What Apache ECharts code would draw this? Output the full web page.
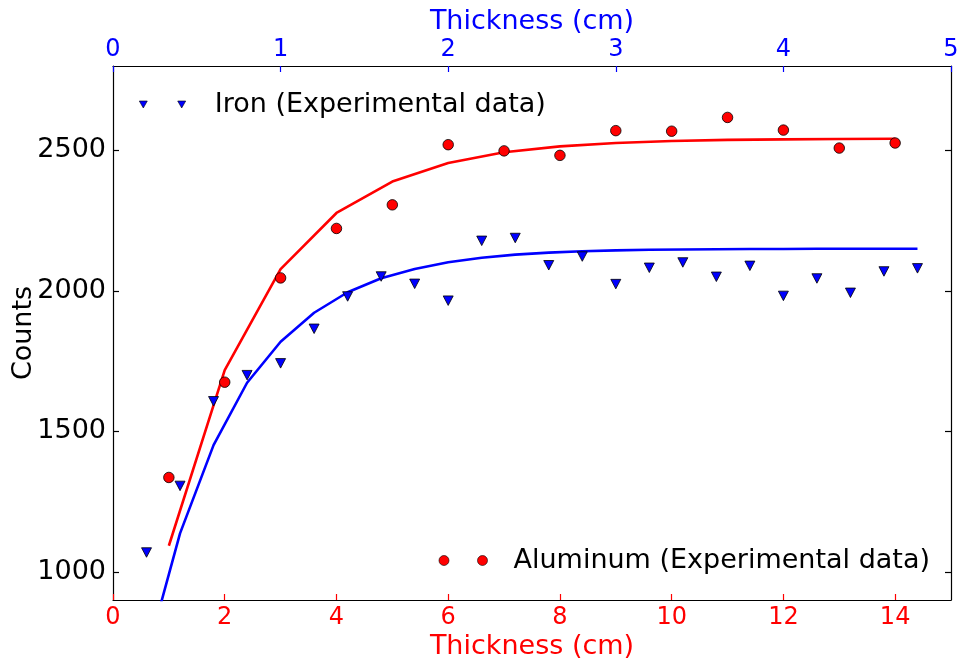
<!DOCTYPE html>
<html>
<head>
<meta charset="utf-8">
<title>Counts vs Thickness</title>
<script src="https://cdn.jsdelivr.net/npm/echarts@6.0.0/dist/echarts.min.js"></script>
<style>
  html, body { margin: 0; padding: 0; background: #fff; }
  #chart { width: 958px; height: 663px; }
</style>
</head>
<body>
<div id="chart"></div>
<script>
// Aluminum: thickness on the lower (red) axis, cm
const alThickness = [1, 2, 3, 4, 5, 6, 7, 8, 9, 10, 11, 12, 13, 14];
const alCounts = [1336, 1675, 2046, 2222, 2306, 2520, 2498, 2482, 2570, 2568, 2617, 2572, 2508, 2526];
const alFit = [1093, 1718, 2077, 2277, 2389, 2455, 2493, 2514, 2526, 2533, 2537, 2539, 2540, 2541];

// Iron: thickness on the upper (blue) axis, cm
const feThickness = [0.2, 0.4, 0.6, 0.8, 1.0, 1.2, 1.4, 1.6, 1.8, 2.0, 2.2, 2.4,
                     2.6, 2.8, 3.0, 3.2, 3.4, 3.6, 3.8, 4.0, 4.2, 4.4, 4.6, 4.8];
const feCounts = [1069, 1306, 1607, 1700, 1742, 1865, 1980, 2051, 2025, 1965, 2178, 2188,
                  2091, 2122, 2024, 2082, 2101, 2050, 2089, 1982, 2044, 1993, 2069, 2080];
const feFit = [700, 1137, 1451, 1673, 1819, 1922, 1995, 2045, 2078, 2102, 2118, 2129,
               2136, 2141, 2144, 2146, 2147, 2148, 2149, 2149, 2150, 2150, 2150, 2150];

// Tick positions
const bottomTicks = [0, 2, 4, 6, 8, 10, 12, 14];
const topTicks = [0, 1, 2, 3, 4, 5];
const yTicks = [1000, 1500, 2000, 2500];

const FONT = 'DejaVu Sans';
const RED = '#ff0000';
const BLUE = '#0000ff';

const zip = (xs, ys) => xs.map((x, i) => [x, ys[i]]);
const plain = v => String(v);

// Two-marker legend glyphs
const triPair = 'path://M0,0L8,0L4,7ZM38.4,0L46.4,0L42.4,7Z';
const circPair = 'path://M0,5A5,5 0 1 1 10,5A5,5 0 1 1 0,5ZM38.5,5A5,5 0 1 1 48.5,5A5,5 0 1 1 38.5,5Z';

const frame = { show: true, onZero: false, lineStyle: { color: '#000', width: 1.2 } };

const chart = echarts.init(document.getElementById('chart'), null, { renderer: 'canvas' });

chart.setOption({
  animation: false,
  backgroundColor: '#fff',
  textStyle: { fontFamily: FONT },
  grid: { left: 113, right: 7, top: 66, bottom: 63, containLabel: false, outerBoundsMode: 'none' },
  legend: [
    {
      data: [{
        name: 'Iron (Experimental data)', icon: triPair,
        itemStyle: { color: BLUE, borderColor: '#000', borderWidth: 0.6 }
      }],
      left: 134, top: 86,
      itemWidth: 46.4, itemHeight: 7,
      selectedMode: false,
      textStyle: { fontFamily: FONT, fontSize: 27, color: '#000', padding: [0, 0, 0, 24] }
    },
    {
      data: [{
        name: 'Aluminum (Experimental data)', icon: circPair,
        itemStyle: { color: RED, borderColor: '#000', borderWidth: 0.6 }
      }],
      right: 23, top: 542,
      itemWidth: 48.5, itemHeight: 10,
      selectedMode: false,
      textStyle: { fontFamily: FONT, fontSize: 27, color: '#000', padding: [0, 0, 0, 21] }
    }
  ],
  xAxis: [
    {
      type: 'value', position: 'bottom', min: 0, max: 15,
      name: 'Thickness (cm)', nameLocation: 'middle', nameGap: 33, nameMoveOverlap: false,
      nameTextStyle: { color: RED, fontSize: 27, fontFamily: FONT },
      axisLine: frame,
      axisTick: { show: true, inside: true, length: 6, customValues: bottomTicks, lineStyle: { color: RED, width: 1.2 } },
      axisLabel: { color: RED, fontSize: 24, fontFamily: FONT, margin: 6, customValues: bottomTicks, formatter: plain },
      splitLine: { show: false }
    },
    {
      type: 'value', position: 'top', min: 0, max: 5,
      name: 'Thickness (cm)', nameLocation: 'middle', nameGap: 31, nameMoveOverlap: false,
      nameTextStyle: { color: BLUE, fontSize: 27, fontFamily: FONT },
      axisLine: frame,
      axisTick: { show: true, inside: true, length: 6, customValues: topTicks, lineStyle: { color: BLUE, width: 1.2 } },
      axisLabel: { color: BLUE, fontSize: 24, fontFamily: FONT, margin: 4, customValues: topTicks, formatter: plain },
      splitLine: { show: false }
    }
  ],
  yAxis: [
    {
      type: 'value', position: 'left', min: 900, max: 2800,
      name: 'Counts', nameLocation: 'middle', nameGap: 76, nameMoveOverlap: false,
      nameTextStyle: { color: '#000', fontSize: 27, fontFamily: FONT },
      axisLine: frame,
      axisTick: { show: true, inside: true, length: 6, customValues: yTicks, lineStyle: { color: '#000', width: 1.2 } },
      axisLabel: { color: '#000', fontSize: 27, fontFamily: FONT, margin: 7, customValues: yTicks, formatter: plain },
      splitLine: { show: false }
    },
    {
      type: 'value', position: 'right', min: 900, max: 2800,
      axisLine: frame,
      axisTick: { show: true, inside: true, length: 6, customValues: yTicks, lineStyle: { color: '#000', width: 1.2 } },
      axisLabel: { show: false },
      splitLine: { show: false }
    }
  ],
  series: [
    {
      name: 'Iron fit', type: 'line', xAxisIndex: 1, yAxisIndex: 0,
      data: zip(feThickness, feFit), symbol: 'none', clip: true, z: 2,
      lineStyle: { color: BLUE, width: 2.6 }, itemStyle: { color: BLUE }
    },
    {
      name: 'Aluminum fit', type: 'line', xAxisIndex: 0, yAxisIndex: 0,
      data: zip(alThickness, alFit), symbol: 'none', clip: true, z: 2,
      lineStyle: { color: RED, width: 2.6 }, itemStyle: { color: RED }
    },
    {
      name: 'Iron (Experimental data)', type: 'scatter', xAxisIndex: 1, yAxisIndex: 0,
      data: zip(feThickness, feCounts), z: 3,
      symbol: 'path://M0,0L10,0L5,9.5Z', symbolSize: [10, 9.5],
      itemStyle: { color: BLUE, borderColor: '#000', borderWidth: 0.8, opacity: 1 }
    },
    {
      name: 'Aluminum (Experimental data)', type: 'scatter', xAxisIndex: 0, yAxisIndex: 0,
      data: zip(alThickness, alCounts), z: 3,
      symbol: 'circle', symbolSize: 10.5,
      itemStyle: { color: RED, borderColor: '#000', borderWidth: 0.8, opacity: 1 }
    }
  ]
});
</script>
</body>
</html>
